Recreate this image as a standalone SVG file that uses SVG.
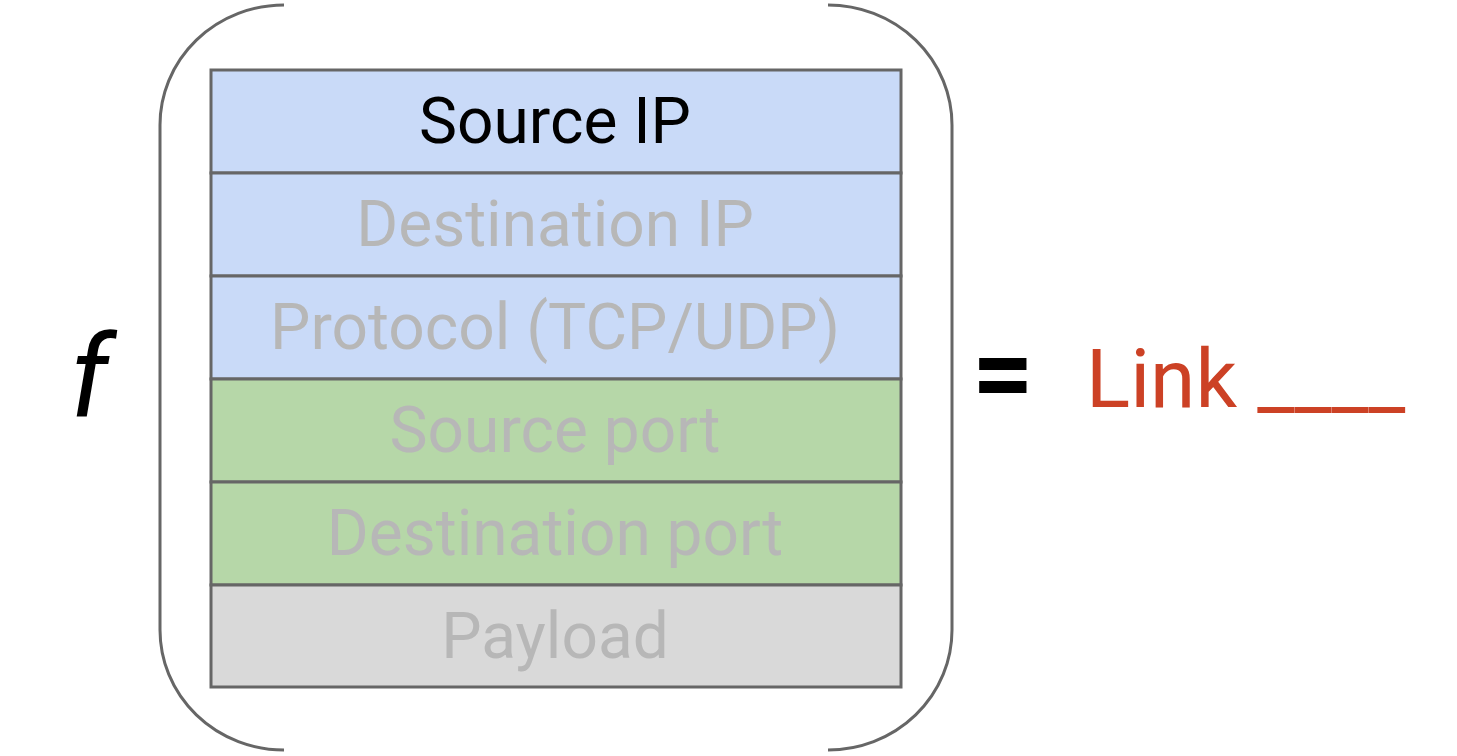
<svg xmlns="http://www.w3.org/2000/svg" width="1457" height="756" viewBox="0 0 1457 756">
<style>
.row{stroke:#666;stroke-width:3}
.blue{fill:#c9daf8}.green{fill:#b6d7a8}.gray{fill:#d9d9d9}
.lbl{font-family:Roboto,"Liberation Sans",sans-serif;font-size:64px;text-anchor:middle;fill:#b7b7b7}
.br{fill:none;stroke:#666;stroke-width:3}
</style>
<rect width="1457" height="756" fill="#fff"/>
<g id="brackets">
<path class="br" d="M284,5 A124,120 0 0 0 160,125 L160,630 A124,120 0 0 0 284,750"/>
<path class="br" d="M828,5 A124,120 0 0 1 952,125 L952,630 A124,120 0 0 1 828,750"/>
</g>
<g id="row1"><rect class="row blue" x="211" y="70" width="690" height="103"/><text class="lbl" x="555" y="143" style="fill:#000">Source IP</text></g>
<g id="row2"><rect class="row blue" x="211" y="173" width="690" height="103"/><text class="lbl" x="555" y="246">Destination IP</text></g>
<g id="row3"><rect class="row blue" x="211" y="276" width="690" height="103"/><text class="lbl" x="555" y="349">Protocol (TCP/UDP)</text></g>
<g id="row4"><rect class="row green" x="211" y="379" width="690" height="103"/><text class="lbl" x="555" y="452">Source port</text></g>
<g id="row5"><rect class="row green" x="211" y="482" width="690" height="103"/><text class="lbl" x="555" y="555">Destination port</text></g>
<g id="row6"><rect class="row gray" x="211" y="585" width="690" height="102"/><text class="lbl" x="555" y="658">Payload</text></g>
<text id="f" x="70" y="417" font-family="Roboto,'Liberation Sans',sans-serif" font-style="italic" font-size="114" fill="#000">f</text>
<text id="eq" x="1003" y="410" font-family="Roboto,'Liberation Sans',sans-serif" font-weight="bold" font-size="108" text-anchor="middle" fill="#000">=</text>
<text id="link" x="1086" y="407" font-family="Roboto,'Liberation Sans',sans-serif" font-size="82" fill="#cc4125">Link ____</text>
</svg>
